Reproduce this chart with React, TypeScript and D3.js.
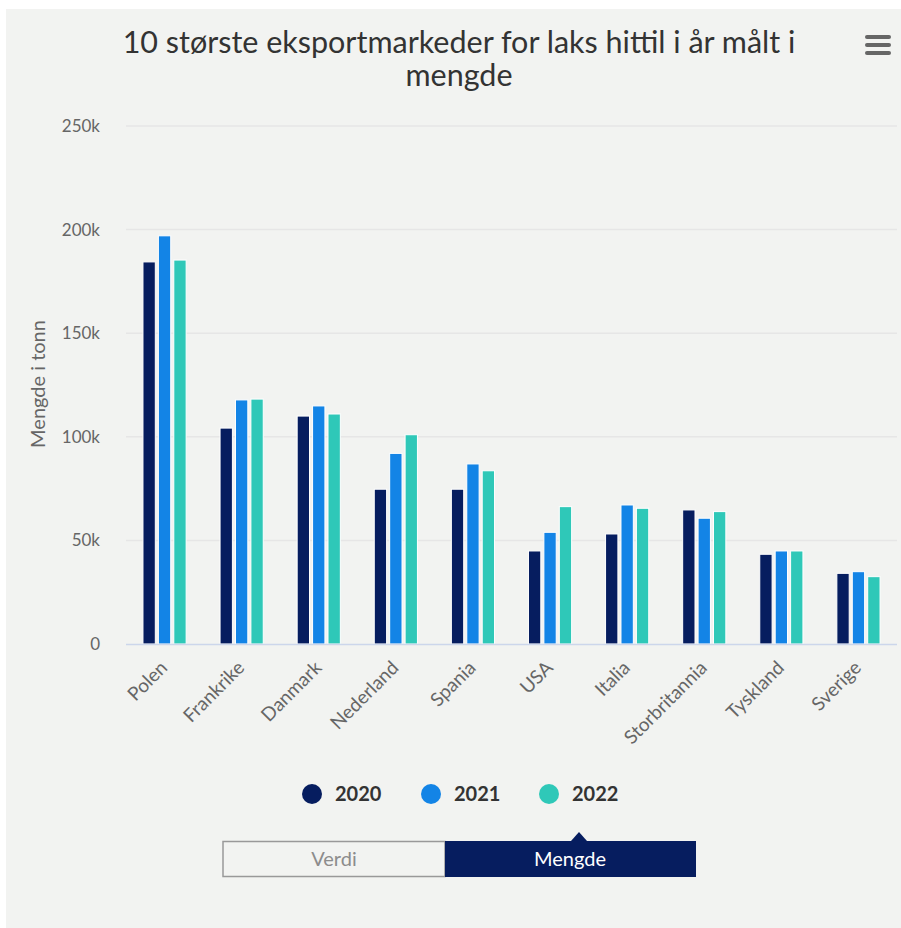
import React from "react";
import * as d3 from "d3";

const categories = ["Polen", "Frankrike", "Danmark", "Nederland", "Spania", "USA", "Italia", "Storbritannia", "Tyskland", "Sverige"];
const years = ["2020", "2021", "2022"];
const values2020 = [184400, 104200, 110000, 74700, 74700, 44900, 53100, 64700, 43300, 34100];
const values2021 = [197000, 117800, 114900, 92000, 86900, 53900, 67100, 60700, 44900, 34900];
const values2022 = [185300, 118200, 111000, 101000, 83600, 66300, 65500, 63900, 44900, 32500];
const yTicks = [0, 50000, 100000, 150000, 200000, 250000];
const yTickLabels = ["0", "50k", "100k", "150k", "200k", "250k"];
const colors = ["#061d5f", "#1384e6", "#2fc8b8"];
const titleLines = ["10 største eksportmarkeder for laks hittil i år målt i", "mengde"];
const buttons = ["Verdi", "Mengde"];

const series = [values2020, values2021, values2022];

export default function App() {
  const W = 901, H = 928;
  const left = 126, right = 897, top = 126, bottom = 644;
  const font = "Lato, 'Open Sans', sans-serif";

  const x = d3.scaleBand<string>().domain(categories).range([left, right]).paddingInner(0).paddingOuter(0);
  const bw = x.bandwidth();
  const x1 = d3.scaleBand<string>().domain(years).range([bw * 0.2, bw * 0.8]).paddingInner(0.2).paddingOuter(0.1);
  const y = d3.scaleLinear().domain([0, 250000]).range([bottom, top]);

  const legendX = [312, 431, 549];

  return (
    <svg width={W} height={H} style={{ position: "absolute", left: 0, top: 0 }} fontFamily={font}>
      <rect x={0} y={0} width={W} height={H} fill="#ffffff" />
      <rect x={6} y={9} width={W - 6} height={H - 9} fill="#f2f3f1" />

      {/* title */}
      {titleLines.map((t, i) => (
        <text key={i} x={459} y={53 + i * 33} textAnchor="middle" fontSize={30.5} fill="#333333">{t}</text>
      ))}

      {/* hamburger */}
      {[0, 1, 2].map((i) => (
        <line key={i} x1={867} x2={889} y1={37 + i * 8} y2={37 + i * 8} stroke="#666666" strokeWidth={4} strokeLinecap="round" />
      ))}

      {/* grid */}
      {yTicks.map((t, i) => (
        <g key={t}>
          {t !== 0 && <line x1={left} x2={right} y1={y(t)} y2={y(t)} stroke="#e6e6e6" strokeWidth={1.5} />}
          <text x={100} y={y(t) + 6} textAnchor="end" fontSize={17} fill="#666666">{yTickLabels[i]}</text>
        </g>
      ))}

      {/* axis title */}
      <text transform={`translate(45,${384}) rotate(-90)`} textAnchor="middle" fontSize={20} fill="#666666">Mengde i tonn</text>

      {/* bars */}
      {categories.map((c, ci) => (
        <g key={c} transform={`translate(${x(c)},0)`}>
          {series.map((s, si) => (
            <rect key={si} x={x1(years[si])} y={y(s[ci])} width={x1.bandwidth()} height={bottom - y(s[ci])} fill={colors[si]} stroke="#ffffff" strokeWidth={1} />
          ))}
        </g>
      ))}

      {/* x axis line */}
      <line x1={left} x2={right} y1={bottom + 0.5} y2={bottom + 0.5} stroke="#ccd6eb" strokeWidth={1.5} />

      {/* x labels */}
      {categories.map((c) => {
        const cx = (x(c) as number) + bw / 2 + 4;
        return (
          <text key={c} transform={`translate(${cx},669) rotate(-45)`} textAnchor="end" fontSize={19} fill="#666666">{c}</text>
        );
      })}

      {/* legend */}
      {years.map((yr, i) => (
        <g key={yr}>
          <circle cx={legendX[i]} cy={794} r={10} fill={colors[i]} />
          <text x={legendX[i] + 23} y={801} fontSize={20} fontWeight={700} fill="#333333">{yr}</text>
        </g>
      ))}

      {/* buttons */}
      <rect x={223} y={841.5} width={222} height={35} fill="#f2f3f1" stroke="#999999" strokeWidth={1.5} />
      <text x={334} y={866} textAnchor="middle" fontSize={20} fill="#8c8c8c">{buttons[0]}</text>
      <rect x={445} y={841} width={251} height={36} fill="#061d5f" />
      <path d="M571,841 L579,832 L587,841 Z" fill="#061d5f" />
      <text x={570} y={866} textAnchor="middle" fontSize={20} fill="#ffffff">{buttons[1]}</text>
    </svg>
  );
}
